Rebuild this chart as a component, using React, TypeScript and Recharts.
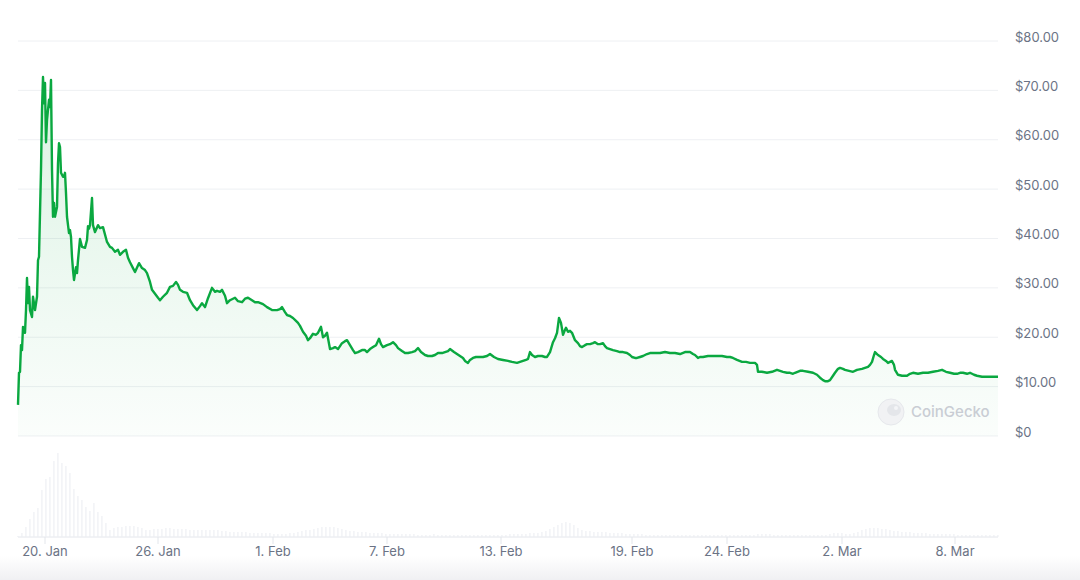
import { ComposedChart, Area, Bar, XAxis, YAxis, CartesianGrid } from 'recharts'

const FONT = 'Inter, "Noto Sans", sans-serif'
const AXIS_COLOR = '#6b7385'
const GREEN = '#0aa840'

const PRICE_TICKS = [0, 10, 20, 30, 40, 50, 60, 70, 80]
const DATE_LABELS = ['20. Jan', '26. Jan', '1. Feb', '7. Feb', '13. Feb', '19. Feb', '24. Feb', '2. Mar', '8. Mar']
// ordinal time slots (stock-style axis, equal spacing per data slot)
const DATE_SLOTS = [13.5, 70, 127.5, 184.5, 241.5, 307, 354.5, 412, 468.5]
const LAST_SLOT = 490

// [slot, price in USD]
const PRICE: [number, number][] = [
  [0, 6.3], [0.5, 12.8], [1, 13.0], [1.5, 18.4], [2, 17.4], [2.5, 22.1], [3.5, 20.9], [4, 25.5],
  [4.5, 32.0], [5, 26.9], [5.5, 30.2], [6, 25.5], [7, 24.1], [7.5, 28.2], [8.5, 25.5], [9.5, 28.2],
  [10, 35.6], [10.5, 36.3], [11.5, 53.9], [12, 66.0], [12.5, 72.7], [13, 67.4], [13.5, 71.5], [14, 59.5],
  [14.5, 64.0], [15.5, 68.1], [16, 66.6], [16.5, 72.1], [17, 53.9], [17.5, 44.4], [18, 47.2], [18.5, 44.4],
  [19.5, 46.4], [20, 55.3], [20.5, 59.3], [21, 58.5], [21.5, 53.3], [22.5, 52.5], [23, 52.5], [23.5, 53.3],
  [24, 49.2], [24.5, 44.4], [25.5, 41.1], [26, 41.7], [26.5, 40.3], [27, 36.3], [27.5, 33.6], [28, 31.6],
  [29, 34.2], [29.5, 33.0], [30, 35.6], [31, 39.9], [32, 38.3], [33.5, 38.1], [34.5, 39.7], [35, 42.5],
  [35.5, 42.0], [36, 42.7], [37, 48.2], [37.5, 42.7], [38.5, 41.3], [40, 42.7], [41, 42.1], [42.5, 42.3],
  [44.5, 39.3], [46, 38.3], [47, 38.1], [48.5, 37.3], [50, 37.7], [51, 36.7], [52.5, 37.3], [54, 37.7],
  [55, 36.1], [56, 35.2], [57.5, 34.0], [58.5, 33.2], [60.5, 35.0], [62, 34.0], [63.5, 33.6], [64.5, 33.0],
  [66, 31.2], [67, 29.6], [68.5, 28.8], [70, 28.0], [71, 27.5], [72.5, 28.2], [74.5, 29.0], [76, 30.2],
  [77.5, 30.4], [79, 31.2], [80, 30.6], [81, 29.6], [82.5, 29.2], [84.5, 29.0], [86, 27.5], [87.5, 26.5],
  [89.5, 25.5], [91, 26.3], [92, 26.9], [93.5, 26.1], [95, 27.9], [97, 30.0], [98.5, 29.2], [99.5, 29.4],
  [101, 29.2], [102, 29.6], [103.5, 28.4], [104.5, 26.9], [106, 27.5], [108.5, 28.0], [110, 27.3], [112, 27.1],
  [113.5, 27.8], [115, 28.0], [117, 27.5], [118.5, 27.1], [120, 27.1], [122.5, 26.7], [124.5, 26.1], [127, 25.5],
  [129.5, 25.5], [131, 25.7], [132, 26.1], [133.5, 25.1], [134.5, 24.5], [136, 24.3], [137.5, 23.9], [139, 23.3],
  [140, 22.9], [141, 22.3], [142.5, 21.1], [144, 20.3], [145, 19.4], [146, 19.8], [147.5, 20.7], [149, 20.5],
  [150, 20.9], [151.5, 22.1], [152.5, 20.0], [153.5, 20.3], [154.5, 20.9], [156, 17.6], [157.5, 17.8], [158.5, 18.0],
  [160, 17.6], [162, 18.8], [163.5, 19.2], [164.5, 19.4], [166, 18.4], [167.5, 17.4], [168.5, 16.8], [170, 17.0],
  [172, 17.4], [173.5, 17.4], [174.5, 17.0], [176, 17.6], [177.5, 18.0], [179, 18.4], [180.5, 19.7], [181.5, 18.6],
  [182.5, 18.0], [183.5, 18.2], [184.5, 18.4], [186, 18.6], [187.5, 19.0], [189, 18.4], [190, 17.8], [192, 17.2],
  [193.5, 16.8], [195, 16.8], [197, 17.0], [198.5, 17.2], [200, 17.8], [201.5, 17.0], [203.5, 16.4], [205, 16.2],
  [207, 16.2], [208.5, 16.4], [210, 16.8], [212, 16.8], [213.5, 17.0], [215, 17.2], [216, 17.6], [218, 17.0],
  [219.5, 16.6], [221, 16.2], [222.5, 15.8], [223.5, 15.2], [225, 14.8], [226, 15.4], [227.5, 15.8], [229, 16.0],
  [231, 16.0], [232.5, 16.0], [234.5, 16.2], [236, 16.6], [238, 16.0], [240, 15.6], [242.5, 15.4], [245, 15.2],
  [247, 15.0], [249.5, 14.8], [251, 15.0], [252.5, 15.2], [254, 15.4], [255, 15.6], [256, 17.0], [257, 16.4],
  [258.5, 16.0], [260, 16.2], [262, 16.2], [263.5, 16.0], [264.5, 16.0], [266, 17.0], [267.5, 19.0], [268.5, 19.8],
  [269.5, 20.9], [270.5, 23.9], [271.5, 22.9], [272.5, 20.5], [273.5, 21.5], [274, 21.9], [275, 21.1], [276, 21.3],
  [277, 20.9], [278.5, 19.4], [280, 18.8], [281, 18.2], [282, 18.0], [283.5, 18.4], [284.5, 18.6], [286, 18.6],
  [287.5, 18.8], [288.5, 19.0], [290, 18.6], [291, 18.6], [292.5, 18.8], [293.5, 18.2], [294.5, 17.8], [296, 17.6],
  [297.5, 17.4], [299.5, 17.2], [301, 17.0], [302.5, 17.0], [304.5, 16.8], [306, 16.4], [307, 16.0], [308.5, 15.8],
  [309.5, 15.8], [311, 16.0], [312.5, 16.2], [314.5, 16.6], [316, 16.8], [318.5, 16.8], [321, 16.8], [323.5, 17.0],
  [326, 16.8], [328.5, 16.8], [331, 16.6], [333.5, 17.0], [336, 17.0], [337.5, 16.6], [338.5, 16.4], [340, 15.8],
  [341, 16.0], [342.5, 16.0], [345, 16.2], [347, 16.2], [349.5, 16.2], [352, 16.2], [354.5, 16.0], [356, 16.0],
  [357.5, 15.8], [359.5, 15.4], [362, 15.0], [364, 15.0], [366, 14.8], [367.5, 14.8], [368.5, 14.8], [369.5, 14.4],
  [370, 13.0], [372, 13.0], [374.5, 12.8], [377, 13.0], [379.5, 13.4], [381, 13.2], [382.5, 13.0], [384.5, 12.8],
  [386, 12.8], [387.5, 12.6], [388.5, 12.8], [391, 13.2], [392.5, 13.2], [395, 13.0], [397.5, 12.8], [399.5, 12.4],
  [401, 11.8], [402.5, 11.3], [403.5, 11.1], [405, 11.1], [406, 11.3], [407.5, 12.2], [408.5, 12.8], [410, 13.6],
  [411, 13.8], [412.5, 13.6], [413.5, 13.4], [415.5, 13.2], [417.5, 13.0], [419.5, 13.4], [422, 13.6], [423.5, 13.8],
  [425, 14.0], [426, 14.4], [427, 15.0], [428, 16.4], [428.5, 17.0], [429.5, 16.6], [430, 16.4], [431.5, 16.0],
  [432.5, 15.6], [434, 15.2], [435, 14.8], [436, 15.0], [437, 15.2], [438, 14.4], [438.5, 13.4], [440, 12.4],
  [442, 12.2], [444.5, 12.2], [446, 12.6], [447.5, 12.8], [450, 12.6], [452.5, 12.8], [455, 12.8], [457.5, 13.0],
  [460, 13.2], [462, 13.4], [464, 13.0], [466, 12.8], [468, 12.6], [469.5, 12.6], [471, 12.8], [472.5, 12.8],
  [474.5, 12.6], [476, 12.8], [478, 12.4], [479.5, 12.2], [482, 12.0], [484.5, 12.0], [487, 12.0], [490, 12.0],
]

// trading volume, one value every 2 slots, relative units
const VOLUME = [
  1, 4, 10, 18, 25, 29, 47, 58, 60, 76,
  84, 74, 71, 64, 48, 41, 37, 30, 26, 34,
  25, 21, 14, 7, 9, 10, 10, 11, 11, 11,
  10, 9, 7, 7, 8, 8, 8, 9, 9, 8,
  8, 8, 8, 7, 7, 7, 7, 7, 7, 7,
  7, 6, 6, 5, 5, 5, 5, 5, 4, 4,
  4, 4, 4, 4, 3, 3, 3, 3, 4, 4,
  5, 6, 7, 7, 8, 9, 10, 10, 10, 10,
  9, 8, 7, 6, 6, 5, 5, 5, 4, 4,
  4, 4, 3, 3, 3, 3, 3, 3, 3, 3,
  2, 2, 2, 2, 3, 2, 2, 2, 2, 2,
  2, 2, 2, 2, 2, 2, 2, 2, 2, 2,
  2, 2, 2, 3, 3, 3, 3, 3, 4, 4,
  4, 5, 6, 8, 10, 12, 14, 15, 14, 12,
  9, 7, 6, 6, 5, 5, 5, 5, 4, 4,
  4, 4, 3, 3, 3, 3, 3, 2, 2, 2,
  2, 2, 2, 2, 2, 2, 2, 2, 2, 2,
  2, 2, 2, 2, 2, 2, 2, 2, 2, 2,
  2, 2, 2, 2, 2, 3, 3, 3, 3, 2,
  2, 2, 2, 2, 2, 2, 2, 2, 2, 2,
  2, 2, 2, 3, 4, 4, 4, 3, 3, 4,
  5, 7, 8, 9, 9, 9, 8, 8, 7, 6,
  6, 5, 5, 5, 4, 4, 4, 4, 3, 3,
  3, 3, 3, 3, 3, 2, 2, 2, 2, 2,
  2, 2, 2, 2, 2, 2,
]

type Row = { slot: number; price?: number; volume?: number }

const rowMap = new Map<number, Row>()
PRICE.forEach(([slot, price]) => rowMap.set(slot, { slot, price }))
VOLUME.forEach((volume, i) => {
  const slot = i * 2
  const row = rowMap.get(slot) ?? { slot }
  row.volume = volume
  rowMap.set(slot, row)
})
const data = [...rowMap.values()].sort((a, b) => a.slot - b.slot)

// price panel leaves the lower fifth of the plot for volume
const PRICE_DOMAIN: [number, number] = [-20.46, 80]
const VOLUME_DOMAIN: [number, number] = [0, Math.max(...VOLUME) * 5.9]

const fmtPrice = (v: number) => (v === 0 ? '$0' : `$${v.toFixed(2)}`)
const fmtDate = (v: number) => DATE_LABELS[DATE_SLOTS.indexOf(v)] ?? ''

function PriceTick({ x, y, payload }: any) {
  return (
    <text x={x} y={y - 4} dy="0.355em" textAnchor="start" fill={AXIS_COLOR} fontSize={13} fontFamily={FONT}>
      {fmtPrice(payload.value)}
    </text>
  )
}

export default function App() {
  return (
    <div style={{ position: 'fixed', left: 0, top: 0, width: 1080, height: 580, background: '#fff', overflow: 'hidden' }}>
      <ComposedChart
        width={1080}
        height={580}
        data={data}
        margin={{ top: 41, right: 0, bottom: 0, left: 18 }}
      >
        <defs>
          <linearGradient id="priceFill" x1="0" y1="0" x2="0" y2="1">
            <stop offset="0%" stopColor={GREEN} stopOpacity={0.24} />
            <stop offset="100%" stopColor={GREEN} stopOpacity={0.03} />
          </linearGradient>
        </defs>
        <CartesianGrid yAxisId="price" vertical={false} stroke="#eef0f3" />
        <XAxis
          dataKey="slot"
          type="number"
          domain={[0, LAST_SLOT]}
          ticks={DATE_SLOTS}
          tickFormatter={fmtDate}
          interval={0}
          height={43}
          axisLine={{ stroke: '#eceef2' }}
          tickLine={{ stroke: '#e3e6eb' }}
          tickSize={7}
          tickMargin={3}
          tick={{ fill: AXIS_COLOR, fontSize: 13, fontFamily: FONT }}
        />
        <YAxis
          yAxisId="price"
          orientation="right"
          width={82}
          domain={PRICE_DOMAIN}
          ticks={PRICE_TICKS}
          interval={0}
          axisLine={false}
          tickLine={false}
          tickMargin={11}
          tick={<PriceTick />}
          allowDataOverflow
        />
        <YAxis yAxisId="vol" hide domain={VOLUME_DOMAIN} allowDataOverflow />
        <Bar
          yAxisId="vol"
          dataKey="volume"
          barSize={3.5}
          fill="#e8eaef"
          isAnimationActive={false}
        />
        <Area
          yAxisId="price"
          type="linear"
          dataKey="price"
          stroke={GREEN}
          strokeWidth={2.4}
          strokeLinejoin="round"
          fill="url(#priceFill)"
          connectNulls
          dot={false}
          activeDot={false}
          isAnimationActive={false}
        />
      </ComposedChart>
      <svg width={1080} height={580} style={{ position: 'absolute', left: 0, top: 0, pointerEvents: 'none' }}>
        <circle cx={891} cy={412} r={13} fill="#f1f2f4" stroke="#e6e8ec" />
        <ellipse cx={894} cy={410} rx={7} ry={6} fill="#e4e6ea" />
        <circle cx={896} cy={408} r={2} fill="#f4f5f7" />
        <text x={911} y={417} fontSize={15} fontWeight={500} fill="#c9cdd4" fontFamily={FONT}>
          CoinGecko
        </text>
      </svg>
      <div
        style={{
          position: 'absolute',
          left: 0,
          top: 556,
          width: 1080,
          height: 24,
          background: 'linear-gradient(to bottom, rgba(243,243,246,0), rgba(240,240,243,1))',
          pointerEvents: 'none',
        }}
      />
    </div>
  )
}
